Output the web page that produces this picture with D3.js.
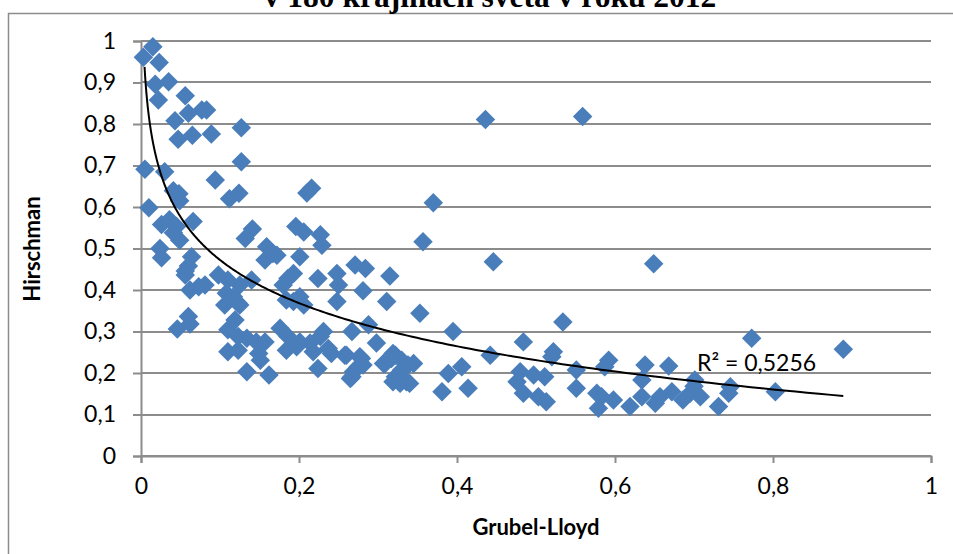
<!DOCTYPE html>
<html><head><meta charset="utf-8">
<script src="https://cdn.jsdelivr.net/npm/d3@7"></script>
<style>html,body{margin:0;padding:0;background:#fff;}svg{display:block;}</style>
</head><body>
<svg id="c" width="953" height="554"></svg>
<script>
const titleText = "v 180 krajinách sveta v roku 2012";
const xLabel = "Grubel-Lloyd";
const yLabel = "Hirschman";
const r2Text = "R² = 0,5256";
const xTicks = [0, 0.2, 0.4, 0.6, 0.8, 1];
const yTicks = [0, 0.1, 0.2, 0.3, 0.4, 0.5, 0.6, 0.7, 0.8, 0.9, 1];
// Grubel-Lloyd index per country
const gl = [0.003,0.015,0.023,0.018,0.035,0.022,0.056,0.043,0.060,0.077,0.083,0.047,0.065,0.089,0.127,0.127,0.005,0.030,0.094,0.041,
0.048,0.049,0.112,0.124,0.210,0.216,0.010,0.026,0.036,0.045,0.066,0.024,0.026,0.041,0.049,0.132,0.141,0.196,0.206,0.227,
0.229,0.159,0.167,0.157,0.172,0.201,0.064,0.060,0.056,0.056,0.098,0.110,0.125,0.140,0.186,0.193,0.224,0.062,0.073,0.081,
0.060,0.062,0.046,0.108,0.117,0.123,0.180,0.201,0.193,0.206,0.106,0.125,0.119,0.110,0.123,0.134,0.146,0.157,0.110,0.123,
0.149,0.151,0.134,0.162,0.176,0.186,0.201,0.184,0.197,0.184,0.214,0.218,0.227,0.231,0.237,0.241,0.248,0.224,0.258,0.267,
0.269,0.265,0.275,0.279,0.288,0.298,0.311,0.353,0.307,0.317,0.319,0.330,0.338,0.345,0.319,0.328,0.340,0.381,0.248,0.271,
0.284,0.315,0.250,0.281,0.395,0.260,0.277,0.281,0.267,0.309,0.322,0.330,0.322,0.336,0.389,0.406,0.414,0.442,0.484,0.480,
0.476,0.497,0.511,0.484,0.503,0.513,0.522,0.520,0.534,0.551,0.551,0.577,0.579,0.598,0.592,0.587,0.446,0.436,0.559,0.370,
0.357,0.649,0.773,0.889,0.638,0.668,0.634,0.583,0.619,0.634,0.651,0.657,0.672,0.686,0.695,0.701,0.708,0.731,0.746,0.744,
0.803,0.700];
// Hirschman index per country
const hi = [0.961,0.986,0.948,0.896,0.902,0.858,0.868,0.808,0.826,0.834,0.834,0.763,0.773,0.776,0.791,0.709,0.691,0.685,0.665,0.639,
0.632,0.615,0.620,0.633,0.634,0.645,0.598,0.558,0.569,0.553,0.565,0.500,0.478,0.538,0.520,0.524,0.547,0.553,0.540,0.533,
0.508,0.504,0.488,0.472,0.484,0.480,0.480,0.458,0.446,0.436,0.436,0.424,0.412,0.424,0.428,0.440,0.428,0.400,0.408,0.412,
0.336,0.318,0.306,0.392,0.384,0.368,0.412,0.384,0.372,0.364,0.364,0.364,0.328,0.304,0.288,0.284,0.275,0.275,0.251,0.255,
0.247,0.231,0.203,0.195,0.308,0.288,0.275,0.255,0.263,0.376,0.272,0.251,0.288,0.300,0.259,0.247,0.372,0.211,0.243,0.300,
0.203,0.187,0.215,0.235,0.316,0.272,0.372,0.344,0.223,0.235,0.247,0.207,0.219,0.223,0.179,0.175,0.175,0.155,0.440,0.460,
0.452,0.434,0.412,0.398,0.300,0.243,0.239,0.219,0.191,0.223,0.243,0.231,0.191,0.179,0.199,0.215,0.163,0.243,0.275,0.203,
0.179,0.195,0.191,0.151,0.143,0.131,0.251,0.239,0.323,0.207,0.163,0.151,0.115,0.135,0.231,0.215,0.468,0.811,0.818,0.610,
0.516,0.463,0.284,0.257,0.219,0.217,0.183,0.143,0.119,0.143,0.127,0.143,0.155,0.135,0.151,0.183,0.143,0.119,0.167,0.151,
0.155,0.168];
// logarithmic trendline y = a*ln(x) + b (as displayed), over x range
const trendA = -0.150, trendB = 0.127;
const trendDomain = [0.0045, 0.889];

const svg = d3.select("#c");
const x = d3.scaleLinear().domain([0, 1]).range([141, 931]);
const y = d3.scaleLinear().domain([0, 1]).range([456, 41]);
const grid = "#8c8c8c";
const font = "Lato, 'Open Sans', sans-serif";

svg.append("rect").attr("width", 953).attr("height", 554).attr("fill", "#fff");
// outer frame
svg.append("path").attr("d", "M8.5,554 V13.5 H953").attr("fill", "none").attr("stroke", "#8c8c8c").attr("stroke-width", 1.5);

svg.append("text").attr("x", 490).attr("y", 7).attr("text-anchor", "middle")
  .attr("font-family", "'Liberation Serif','Times New Roman',serif").attr("font-weight", "bold")
  .attr("font-size", 31.5).text(titleText);

// gridlines
svg.append("g").selectAll("line").data(yTicks).join("line")
  .attr("x1", x(0)).attr("x2", x(1)).attr("y1", d => Math.round(y(d))).attr("y2", d => Math.round(y(d)))
  .attr("stroke", grid).attr("stroke-width", 2);

// y axis
const yAxis = d3.axisLeft(y).tickValues(yTicks).tickSize(8).tickPadding(17)
  .tickFormat(d => d3.format("~g")(d).replace(".", ","));
const gy = svg.append("g").attr("transform", `translate(${x(0)},0)`).call(yAxis);
gy.select(".domain").attr("stroke", grid).attr("stroke-width", 2);
gy.selectAll(".tick line").attr("stroke", grid).attr("stroke-width", 2);
gy.selectAll(".tick text").attr("font-family", font).attr("font-size", 23).attr("fill", "#000");

// x axis
const xAxis = d3.axisBottom(x).tickValues(xTicks).tickSize(7).tickPadding(15)
  .tickFormat(d => d3.format("~g")(d).replace(".", ","));
const gx = svg.append("g").attr("transform", `translate(0,${y(0)})`).call(xAxis);
gx.select(".domain").attr("stroke", grid).attr("stroke-width", 2);
gx.selectAll(".tick line").attr("stroke", grid).attr("stroke-width", 2);
gx.selectAll(".tick text").attr("font-family", font).attr("font-size", 23).attr("fill", "#000");

// axis titles
svg.append("text").attr("x", 536).attr("y", 535).attr("text-anchor", "middle")
  .attr("font-family", font).attr("font-weight", "bold").attr("font-size", 22).text(xLabel);
svg.append("text").attr("transform", "translate(40,249) rotate(-90)").attr("text-anchor", "middle")
  .attr("font-family", font).attr("font-weight", "bold").attr("font-size", 22).text(yLabel);

// points
const pts = gl.map((g, i) => ({ g, h: hi[i] }));
const diamond = d3.symbol().type(d3.symbolSquare).size(190)();
svg.append("g").selectAll("path").data(pts).join("path")
  .attr("d", diamond)
  .attr("transform", d => `translate(${x(d.g)},${y(d.h)}) rotate(45)`)
  .attr("fill", "#4a7ebb");

// trendline
const tx = d3.range(0, 301).map(i => trendDomain[0] * Math.pow(trendDomain[1] / trendDomain[0], i / 300));
svg.append("path").datum(tx)
  .attr("d", d3.line().x(d => x(d)).y(d => y(trendA * Math.log(d) + trendB)))
  .attr("fill", "none").attr("stroke", "#000").attr("stroke-width", 2);

svg.append("text").attr("x", 697).attr("y", 371)
  .attr("font-family", font).attr("font-size", 23).text(r2Text);
</script>
</body></html>
